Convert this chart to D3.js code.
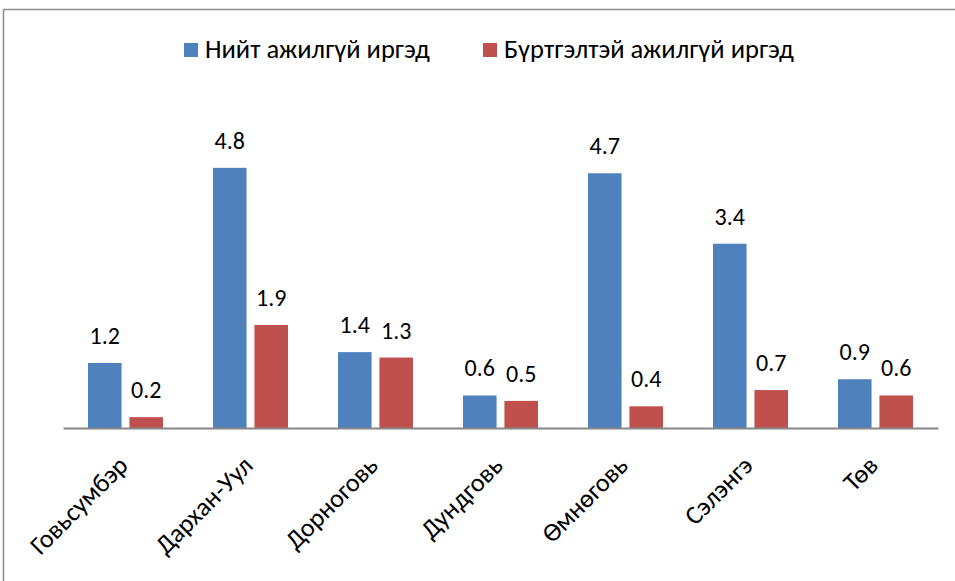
<!DOCTYPE html>
<html><head><meta charset="utf-8">
<script src="https://cdn.jsdelivr.net/npm/d3@7"></script>
<style>body{margin:0;background:#fff}svg{display:block}text{font-family:Carlito,Calibri,Lato,"Noto Sans",sans-serif;fill:#000}</style>
</head><body>
<script>
const categories = ["Говьсумбэр","Дархан-Уул","Дорноговь","Дундговь","Өмнөговь","Сэлэнгэ","Төв"];
const seriesNames = ["Нийт ажилгүй иргэд","Бүртгэлтэй ажилгүй иргэд"];
const totalValues = [1.2,4.8,1.4,0.6,4.7,3.4,0.9];
const registeredValues = [0.2,1.9,1.3,0.5,0.4,0.7,0.6];
const colors = ["#4f81bd","#c0504d"];

const W=955,H=581;
const svg=d3.select("body").append("svg").attr("width",W).attr("height",H);
svg.append("path").attr("d","M3.5,"+H+" V9.5 H"+W).attr("fill","none").attr("stroke","#8c8c8c").attr("stroke-width",1.5);

const x0=d3.scaleBand().domain(categories).range([63,938]).paddingInner(0).paddingOuter(0);
const x1=d3.scaleBand().domain([0,1]).range([25,100]).paddingInner(0.19);
const y=d3.scaleLinear().domain([0,5]).range([428,157]);

const series=[totalValues,registeredValues];
series.forEach((vals,si)=>{
  const g=svg.append("g");
  g.selectAll("rect").data(vals).join("rect")
    .attr("x",(d,i)=>x0(categories[i])+x1(si))
    .attr("width",x1.bandwidth())
    .attr("y",d=>y(d)).attr("height",d=>y(0)-y(d))
    .attr("fill",colors[si]);
  g.selectAll("text").data(vals).join("text")
    .attr("x",(d,i)=>x0(categories[i])+x1(si)+x1.bandwidth()/2)
    .attr("y",d=>y(d)-19)
    .attr("text-anchor","middle").attr("font-size",24)
    .text(d=>d.toFixed(1));
});

const axis=d3.axisBottom(x0).tickSize(0).tickSizeOuter(0);
const ax=svg.append("g").attr("transform","translate(0,428)").call(axis);
ax.select(".domain").attr("stroke","#868686").attr("stroke-width",2);
ax.selectAll(".tick text").attr("font-size",26)
  .attr("text-anchor","end").attr("y",0).attr("dy",0)
  .attr("transform","translate(4,39) rotate(-45)")
  .style("font-family","Carlito,Calibri,Lato,'Noto Sans',sans-serif").attr("fill","#000");

const leg=svg.append("g");
const legX=[184,483];
seriesNames.forEach((n,i)=>{
  leg.append("rect").attr("x",legX[i]).attr("y",43).attr("width",14).attr("height",14).attr("fill",colors[i]);
  leg.append("text").attr("x",legX[i]+21).attr("y",58).attr("font-size",26.5).text(n);
});
</script>
</body></html>
